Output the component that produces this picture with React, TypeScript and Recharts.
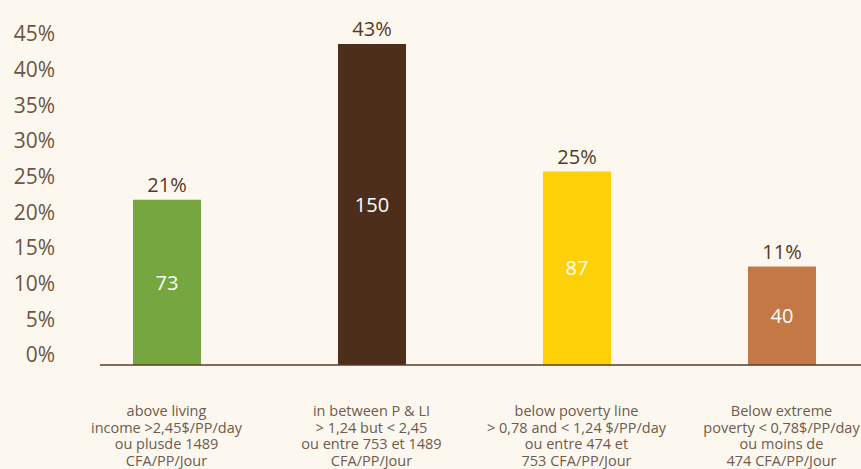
import { BarChart, Bar, XAxis, YAxis, Cell, LabelList } from "recharts";

const categories = ["above living", "in between", "below poverty", "extreme poverty"];
const counts = [73, 150, 87, 40];
const pctLabels = ["21%", "43%", "25%", "11%"];
const categoryLines = [
  ["above living", "income >2,45$/PP/day", "ou plusde 1489", "CFA/PP/Jour"],
  ["in between P & LI", "> 1,24 but < 2,45", "ou entre 753 et 1489", "CFA/PP/Jour"],
  ["below poverty line", "> 0,78 and < 1,24 $/PP/day", "ou entre 474 et", "753 CFA/PP/Jour"],
  ["Below extreme", "poverty < 0,78$/PP/day", "ou moins de", "474 CFA/PP/Jour"],
];
const barColors = ["#76a640", "#4d2e1a", "#fdd008", "#c47846"];
const pctTicks = [0, 5, 10, 15, 20, 25, 30, 35, 40, 45];

// bars in the original reach below the 0% tick down to the axis line
const barFloor = -8.65;

const data = categories.map((name, i) => ({
  name,
  count: counts[i],
  pct: pctLabels[i],
}));

const CategoryTick = (props: any) => {
  const { x, y, payload } = props;
  const lines = categoryLines[payload.index] ?? [];
  return (
    <text x={x} y={y + 51} textAnchor="middle" fill="#6f5a4c" fontSize={14.5}>
      {lines.map((line, i) => (
        <tspan key={i} x={x} dy={i === 0 ? 0 : 16.7}>
          {line}
        </tspan>
      ))}
    </text>
  );
};

export default function App() {
  return (
    <div
      style={{
        position: "absolute",
        left: 0,
        top: 0,
        width: 861,
        height: 469,
        overflow: "hidden",
        background: "#fcf8f0",
        fontFamily: "'Open Sans', sans-serif",
      }}
    >
      <BarChart width={861} height={469} data={data} margin={{ top: 26, right: 0, left: 0, bottom: 0 }}>
        <XAxis
          dataKey="name"
          height={104}
          interval={0}
          tickLine={false}
          tickSize={0}
          tickMargin={0}
          axisLine={{ stroke: "#5b3b27", strokeWidth: 1.5 }}
          padding={{ left: -36, right: -23 }}
          tick={<CategoryTick />}
        />
        <YAxis
          yAxisId="pct"
          type="number"
          width={100}
          domain={[-1.4, 46.12]}
          allowDataOverflow
          ticks={pctTicks}
          tickFormatter={(v) => `${v}%`}
          axisLine={false}
          tickLine={false}
          tickSize={0}
          tickMargin={45}
          tick={{ fill: "#6e5443", fontSize: 21 }}
        />
        <YAxis
          yAxisId="count"
          orientation="right"
          width={0}
          hide
          type="number"
          domain={[barFloor, 158.95]}
          allowDataOverflow
        />
        <Bar
          yAxisId="count"
          dataKey={(d: any) => [barFloor, d.count]}
          barSize={68}
          isAnimationActive={false}
        >
          {data.map((_, i) => (
            <Cell key={i} fill={barColors[i]} />
          ))}
          <LabelList dataKey="count" position="center" fill="#ffffff" fontSize={20} />
          <LabelList dataKey="pct" position="top" offset={8} fill="#553826" fontSize={20} />
        </Bar>
      </BarChart>
    </div>
  );
}
